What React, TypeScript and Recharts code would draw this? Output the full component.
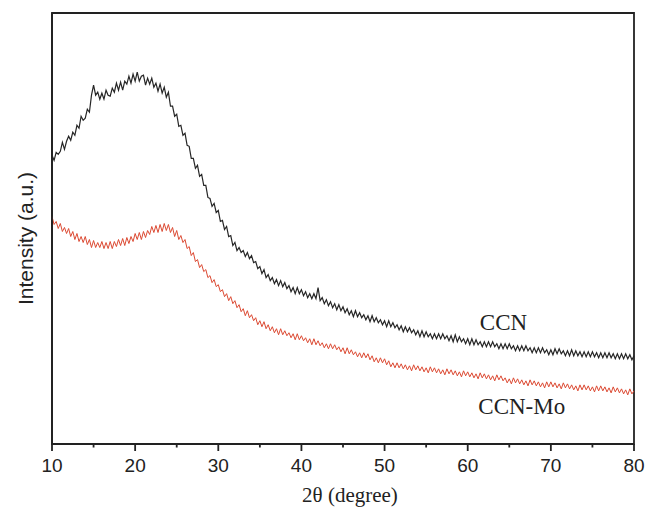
import { LineChart, Line, XAxis, YAxis, ReferenceArea, ReferenceDot, ReferenceLine, Label } from 'recharts';

// 2θ sampled every 0.25 degree from 10 to 80
const twoTheta = Array.from({ length: 281 }, (_, i) => 10 + i * 0.25);

// intensity (a.u.), one row per degree (x.00, x.25, x.50, x.75)
const ccn = [
  288, 283, 291, 289, // 10
  292, 301, 294, 302,
  307, 303, 311, 308,
  318, 315, 327, 323,
  325, 334, 331, 348,
  358, 348, 351, 344, // 15
  350, 344, 353, 348,
  347, 355, 351, 360,
  353, 361, 353, 362,
  359, 367, 360, 369,
  362, 371, 362, 367, // 20
  368, 358, 365, 359,
  365, 356, 360, 352,
  359, 350, 356, 346,
  351, 337, 337, 327,
  329, 317, 318, 308, // 25
  310, 298, 297, 285,
  285, 275, 278, 267,
  269, 258, 258, 246,
  245, 237, 240, 231,
  233, 222, 223, 214, // 30
  217, 207, 208, 198,
  201, 193, 196, 191,
  193, 187, 191, 185,
  188, 181, 182, 175,
  177, 170, 174, 166, // 35
  169, 163, 166, 160,
  164, 158, 163, 157,
  161, 155, 158, 152,
  156, 150, 156, 150,
  154, 148, 152, 146, // 40
  150, 145, 150, 145,
  156, 143, 146, 140,
  144, 138, 142, 136,
  140, 134, 139, 133,
  137, 131, 135, 129, // 45
  133, 127, 133, 127,
  131, 126, 129, 124,
  128, 122, 128, 122,
  126, 121, 124, 119,
  123, 117, 123, 117, // 50
  121, 116, 119, 114,
  118, 112, 117, 112,
  116, 111, 114, 109,
  113, 107, 113, 107,
  112, 107, 110, 105, // 55
  110, 105, 110, 105,
  110, 105, 108, 103,
  108, 102, 109, 102,
  107, 102, 105, 100,
  105, 99, 105, 99, // 60
  104, 99, 102, 97,
  102, 97, 102, 97,
  102, 97, 100, 95,
  100, 95, 100, 95,
  100, 95, 98, 93, // 65
  98, 93, 98, 93,
  98, 93, 96, 91,
  96, 91, 96, 91,
  96, 91, 94, 89,
  94, 89, 95, 90, // 70
  95, 90, 93, 88,
  93, 88, 94, 88,
  93, 88, 92, 87,
  92, 87, 92, 87,
  92, 87, 91, 86, // 75
  91, 86, 91, 86,
  91, 86, 90, 85,
  90, 85, 90, 85,
  90, 85, 89, 84,
  88, // 80
];

const ccnMo = [
  227, 219, 222, 215, // 10
  220, 212, 216, 210,
  215, 207, 212, 204,
  210, 202, 207, 201,
  207, 199, 204, 196,
  203, 196, 201, 196, // 15
  202, 195, 201, 195,
  202, 195, 202, 197,
  204, 198, 205, 198,
  206, 200, 207, 202,
  210, 204, 211, 204, // 20
  212, 206, 213, 209,
  217, 211, 218, 211,
  219, 212, 220, 213,
  219, 211, 216, 207,
  213, 204, 208, 201, // 25
  204, 195, 197, 188,
  191, 182, 184, 176,
  179, 172, 174, 166,
  168, 161, 164, 157,
  159, 152, 154, 147, // 30
  150, 143, 147, 140,
  143, 136, 139, 132,
  135, 128, 133, 126,
  129, 123, 126, 119,
  123, 117, 122, 115, // 35
  119, 113, 117, 111,
  115, 109, 115, 109,
  113, 108, 111, 106,
  110, 104, 110, 104,
  108, 103, 106, 101, // 40
  105, 99, 105, 99,
  103, 98, 101, 96,
  100, 95, 100, 95,
  99, 94, 97, 92,
  96, 90, 96, 90, // 45
  94, 89, 92, 87,
  91, 86, 91, 86,
  90, 84, 88, 82,
  86, 81, 86, 81,
  85, 79, 83, 77, // 50
  81, 76, 81, 76,
  80, 75, 79, 74,
  78, 73, 79, 74,
  78, 73, 77, 72,
  76, 71, 77, 72, // 55
  76, 71, 75, 70,
  74, 69, 75, 70,
  74, 69, 73, 68,
  72, 67, 73, 68,
  72, 67, 71, 66, // 60
  70, 65, 71, 66,
  70, 65, 69, 64,
  68, 63, 69, 64,
  68, 63, 66, 61,
  65, 60, 66, 61, // 65
  65, 60, 64, 59,
  63, 58, 64, 59,
  63, 58, 62, 57,
  61, 56, 62, 57,
  62, 57, 61, 56, // 70
  60, 55, 61, 56,
  60, 55, 59, 54,
  58, 53, 59, 54,
  59, 54, 58, 53,
  57, 52, 58, 53, // 75
  58, 53, 57, 52,
  56, 51, 57, 52,
  56, 51, 55, 50,
  54, 49, 55, 50,
  53, // 80
];

const majorTicks = [10, 20, 30, 40, 50, 60, 70, 80];
const minorTicks = [15, 25, 35, 45, 55, 65, 75];

const data = twoTheta.map((t, i) => ({ t, ccn: ccn[i], ccnMo: ccnMo[i] }));

const axisColor = '#222';
const serif = '"Liberation Serif", "Times New Roman", serif';
const sans = '"Liberation Sans", Arial, sans-serif';

export default function App() {
  return (
    <div style={{ position: 'absolute', left: 0, top: 0, background: '#fff' }}>
      <LineChart width={645} height={508} data={data} margin={{ top: 13, right: 11, bottom: 0, left: 0 }}>
        <XAxis
          dataKey="t"
          type="number"
          domain={[10, 80]}
          ticks={majorTicks}
          interval={0}
          tickSize={7}
          tickMargin={8}
          tickLine={{ stroke: axisColor, strokeWidth: 1.8 }}
          tick={{ fontSize: 19, fill: axisColor, style: { fontFamily: sans } }}
          height={64}
          axisLine={{ stroke: axisColor, strokeWidth: 1.8 }}
        >
          <Label
            value="2θ (degree)"
            position="insideBottom"
            offset={6}
            dx={7}
            style={{ fontFamily: serif, fontSize: 21, fill: axisColor }}
          />
        </XAxis>
        <YAxis
          type="number"
          domain={[0, 430]}
          width={52}
          tick={false}
          tickLine={false}
          axisLine={{ stroke: axisColor, strokeWidth: 1.8 }}
        >
          <Label
            content={({ viewBox }: any) => {
              const cx = viewBox.x + 25;
              const cy = viewBox.y + viewBox.height / 2 + 10;
              return (
                <text
                  x={cx}
                  y={cy}
                  transform={`rotate(-90 ${cx} ${cy})`}
                  textAnchor="middle"
                  dominantBaseline="central"
                  style={{ fontFamily: sans, fontSize: 21, fill: axisColor }}
                >
                  Intensity (a.u.)
                </text>
              );
            }}
          />
        </YAxis>
        <ReferenceArea x1={10} x2={80} y1={0} y2={430} fill="none" stroke={axisColor} strokeWidth={1.8} ifOverflow="visible" />
        {minorTicks.map((v) => (
          <ReferenceLine
            key={v}
            segment={[{ x: v, y: 0 }, { x: v, y: -3.5 }]}
            stroke={axisColor}
            strokeWidth={1.8}
            ifOverflow="visible"
          />
        ))}
        <Line
          type="linear"
          dataKey="ccn"
          stroke="#262626"
          strokeWidth={1.2}
          dot={false}
          isAnimationActive={false}
        />
        <Line
          type="linear"
          dataKey="ccnMo"
          stroke="#dc4a33"
          strokeWidth={1}
          dot={false}
          isAnimationActive={false}
        />
        <ReferenceDot x={64.3} y={122} r={0} fill="none" stroke="none">
          <Label value="CCN" position="center" style={{ fontFamily: serif, fontSize: 23, fill: axisColor }} />
        </ReferenceDot>
        <ReferenceDot x={66.5} y={38} r={0} fill="none" stroke="none">
          <Label value="CCN-Mo" position="center" style={{ fontFamily: serif, fontSize: 23, fill: axisColor }} />
        </ReferenceDot>
      </LineChart>
    </div>
  );
}
